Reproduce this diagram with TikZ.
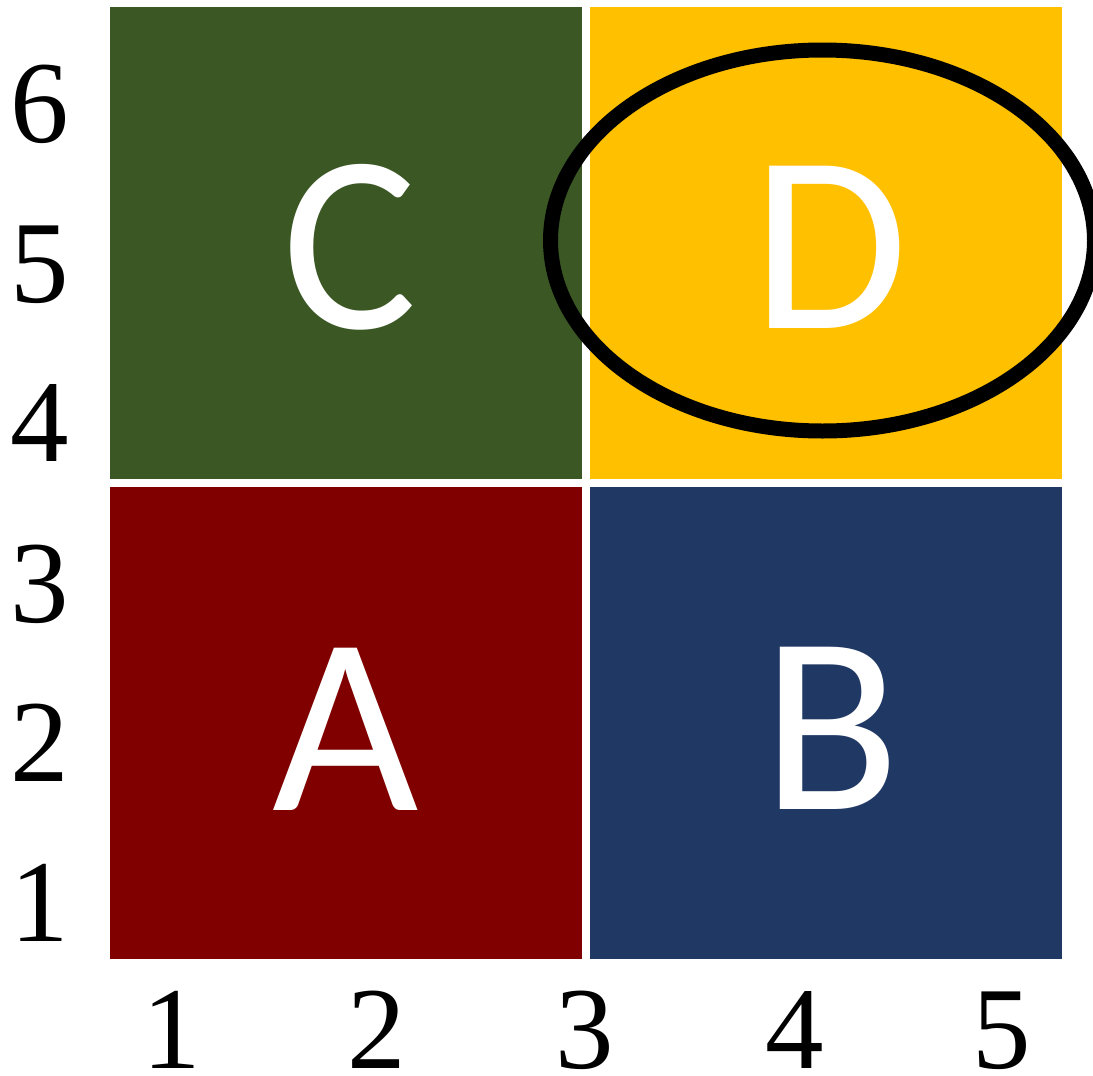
\documentclass[tikz,border=0pt]{standalone}
\usepackage{fontspec}
\usetikzlibrary{shapes.geometric}
\setmainfont{Liberation Serif}
\newfontfamily\letterfont{Carlito}
\definecolor{cgreen}{HTML}{3A5724}
\definecolor{cyellow}{HTML}{FFC000}
\definecolor{cred}{HTML}{800000}
\definecolor{cblue}{HTML}{203864}
\begin{document}
\begin{tikzpicture}[x=1pt,y=-1pt,
  sq/.style={draw=none,inner sep=0pt,outer sep=0pt,minimum width=472pt,minimum height=472pt},
  letter/.style={anchor=base,inner sep=0pt,text=white,font=\letterfont\fontsize{253}{253}\selectfont},
  tick/.style={anchor=base,inner sep=0pt,text=black,font=\fontsize{117}{117}\selectfont},
  ring/.style={draw=black,line width=15pt,ellipse,inner sep=0pt,outer sep=0pt,minimum width=544pt,minimum height=381pt}]
\useasboundingbox (0,0) rectangle (1093,1076);
\fill[white] (0,0) rectangle (1093,1076);
% squares
\node[sq,fill=cgreen]  (C) at (346,243) {};
\node[sq,fill=cyellow] (D) at (826,243) {};
\node[sq,fill=cred]    (A) at (346,722.5) {};
\node[sq,fill=cblue]   (B) at (826,722.5) {};
% letters
\node[letter] (lC) at (350,328) {C};
\node[letter] (lD) at (830,328) {D};
\node[letter] (lA) at (346,810) {A};
\node[letter] (lB) at (831,809) {B};
% ellipse
\node[ring] (E) at (822.5,240.5) {};
% left ticks
\node[tick] (y6) at (40,142) {6};
\node[tick] (y5) at (40,302) {5};
\node[tick] (y4) at (40,461) {4};
\node[tick] (y3) at (40,622) {3};
\node[tick] (y2) at (40,781) {2};
\node[tick] (y1) at (40,941) {1};
% bottom ticks
\node[tick] (x1) at (172,1068) {1};
\node[tick] (x2) at (377,1068) {2};
\node[tick] (x3) at (585,1068) {3};
\node[tick] (x4) at (795,1068) {4};
\node[tick] (x5) at (1002,1068) {5};
\end{tikzpicture}
\end{document}
